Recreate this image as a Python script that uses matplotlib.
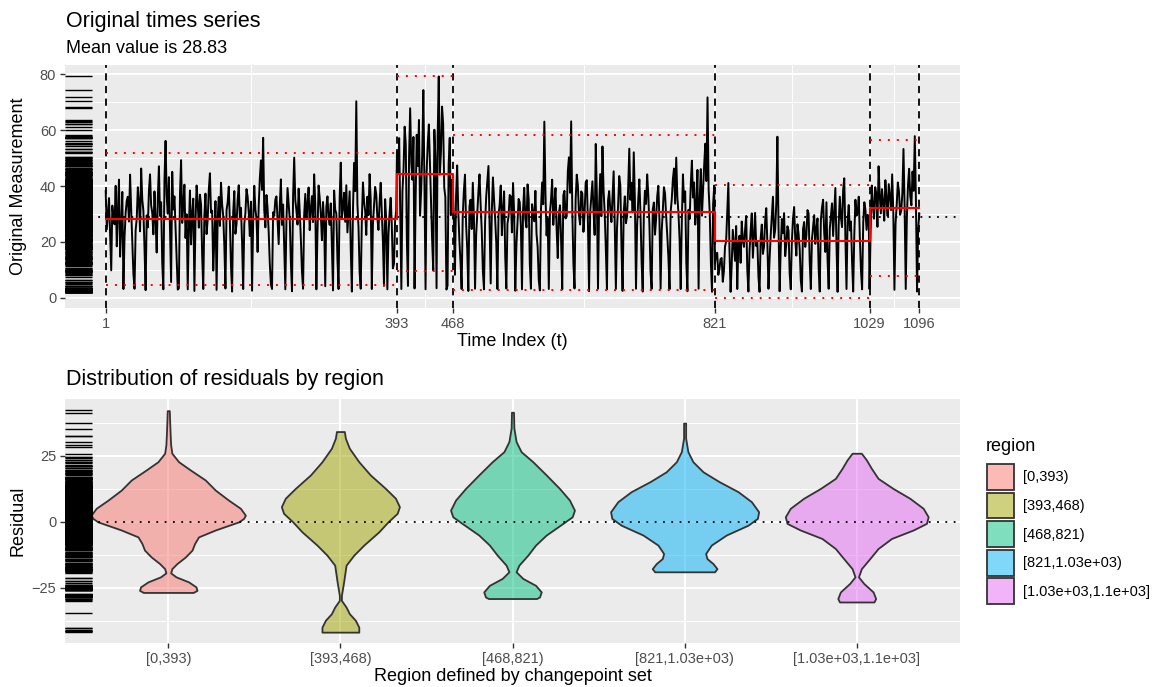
import matplotlib.pyplot as plt
import numpy as np
from matplotlib.patches import Patch
from matplotlib.colors import to_rgba

plt.rcParams['font.family'] = ['Liberation Sans', 'DejaVu Sans']

# changepoints and per-region summaries
breaks = [1, 393, 468, 821, 1029, 1096]
overall_mean = 28.83
seg_means = [28.1, 44.4, 30.7, 20.2, 32.3]
seg_upper = [51.7, 79.5, 58.4, 40.4, 56.5]
seg_lower = [4.4, 9.7, 2.8, 0.0, 7.8]

# time series, read roughly every 1.5 time steps, one list per region
seg1_values = [
    38.2, 24.5, 30.1, 35.7, 22.4, 9.8, 33.0, 28.6, 26.3, 40.1, 18.4, 31.2, 42.3, 14.7, 25.5, 37.9, 3.1, 21.6, 30.4, 34.8,
    36.2, 27.3, 44.1, 31.5, 20.3, 8.6, 3.2, 24.1, 28.4, 39.6, 34.0, 23.8, 46.3, 35.2, 31.1, 17.9, 2.7, 29.5, 25.2, 38.3,
    44.2, 33.1, 30.4, 22.7, 38.1, 27.9, 16.2, 35.4, 47.1, 29.3, 34.2, 12.5, 3.0, 41.8, 56.2, 36.4, 30.1, 43.2, 24.3, 5.6,
    45.1, 31.6, 36.3, 25.4, 14.1, 2.9, 3.4, 37.2, 49.3, 26.8, 33.2, 40.5, 21.4, 29.9, 3.0, 24.7, 38.4, 19.1, 30.2, 35.5,
    2.4, 27.6, 40.2, 33.8, 25.1, 36.9, 33.4, 15.2, 3.1, 29.4, 37.3, 22.8, 28.1, 38.7, 44.6, 30.5, 31.2, 9.7, 21.3, 34.6,
    2.8, 28.3, 36.1, 25.7, 41.2, 33.5, 29.3, 18.6, 3.3, 31.4, 34.2, 39.8, 27.1, 11.4, 2.2, 30.6, 38.2, 22.9, 26.4, 35.1,
    40.3, 28.7, 32.2, 19.8, 3.1, 26.5, 30.3, 38.9, 36.2, 30.7, 22.1, 34.4, 2.5, 27.3, 40.1, 31.6, 28.3, 16.4, 33.1, 42.7,
    49.2, 38.6, 57.3, 31.4, 25.2, 36.8, 32.1, 23.5, 12.2, 4.8, 3.1, 30.6, 29.4, 35.2, 36.3, 27.8, 19.2, 32.9, 42.4, 26.1,
    33.4, 18.2, 3.0, 27.5, 39.3, 33.7, 28.1, 12.6, 2.3, 36.4, 50.2, 34.9, 31.3, 26.2, 39.1, 30.8, 21.2, 9.3, 3.2, 29.7,
    37.2, 28.3, 33.1, 39.5, 24.2, 31.8, 36.4, 27.1, 44.2, 33.6, 3.0, 23.4, 40.2, 35.7, 30.1, 20.6, 34.3, 26.9, 4.1, 32.5,
    36.3, 29.2, 26.1, 33.8, 18.3, 2.6, 38.4, 31.5, 30.2, 13.7, 3.1, 35.9, 48.4, 28.8, 32.3, 37.6, 27.2, 40.3, 23.4, 30.9,
    38.1, 17.4, 2.2, 31.3, 48.3, 38.2, 70.4, 33.6, 25.2, 9.1, 3.2, 27.9, 41.3, 34.4, 31.1, 22.5, 36.2, 29.6, 44.3, 35.0,
    3.1, 26.4, 33.2, 39.7, 37.1, 28.5, 24.3, 33.9, 41.2, 30.6, 20.1, 4.2, 35.3, 27.7, 3.0, 22.4, 30.2, 35.8, 26.3, 10.5,
    12.2, 27.4, 31.3]
seg2_values = [
    52.3, 44.6, 57.2, 30.5, 3.1, 38.2, 46.4, 61.3, 55.1, 20.7, 4.2, 50.3, 67.9, 48.5, 42.3, 57.6, 3.3,
    36.1, 58.4, 47.2, 63.7, 29.4, 38.2, 51.8, 74.4, 40.6, 3.0, 45.2, 55.3, 62.1, 48.4, 35.6, 20.3, 9.8,
    60.2, 49.7, 3.4, 57.7, 79.3, 44.1, 52.2, 68.5, 62.4, 39.5, 36.1, 2.9, 4.3, 47.8, 57.3, 29.6, 42.1]
seg3_values = [
    42.3, 27.6, 8.2, 36.1, 47.4, 31.2, 20.3, 12.8, 3.1, 29.4, 38.2, 44.1, 26.3, 17.5, 2.4, 32.7, 35.1, 24.6, 41.2, 28.9,
    3.2, 22.5, 30.3, 37.8, 44.2, 33.4, 24.1, 9.5, 3.0, 27.2, 36.3, 41.8, 47.2, 25.6, 5.1, 30.9, 43.1, 35.2, 28.2, 19.4,
    3.1, 29.8, 33.3, 40.2, 22.4, 31.6, 38.1, 14.7, 3.3, 26.5, 29.2, 36.8, 36.3, 23.4, 41.1, 30.2, 2.5, 18.6, 27.3, 35.4,
    34.2, 25.7, 3.0, 31.9, 39.4, 28.3, 25.2, 40.6, 35.3, 12.1, 3.2, 33.5, 30.1, 27.4, 38.3, 22.9, 18.2, 6.3, 2.6, 31.8,
    41.3, 33.5, 63.1, 37.2, 22.3, 28.4, 3.1, 30.6, 35.2, 42.3, 26.1, 33.8, 39.3, 24.5, 14.2, 30.1, 33.1, 20.4, 3.0, 36.7,
    38.3, 28.4, 29.1, 45.2, 50.3, 37.6, 63.2, 31.5, 12.4, 3.3, 35.2, 44.1, 40.3, 29.7, 26.2, 38.1, 37.3, 23.6, 30.2, 41.4,
    42.1, 26.8, 2.3, 30.4, 36.2, 41.7, 31.3, 22.5, 55.1, 36.4, 3.2, 33.1, 44.3, 29.2, 54.2, 38.5, 30.3, 17.6, 3.0, 34.9,
    38.2, 31.5, 27.1, 35.9, 45.3, 26.2, 3.1, 24.8, 33.2, 43.6, 40.2, 18.3, 2.4, 30.5, 36.3, 26.7, 29.2, 39.4, 53.4, 35.1,
    41.2, 30.6, 52.1, 35.3, 3.2, 25.8, 35.1, 42.4, 30.2, 12.9, 2.2, 29.3, 38.3, 33.6, 44.2, 36.8, 26.1, 9.4, 3.1, 31.7,
    34.1, 22.6, 28.3, 36.4, 40.1, 27.5, 3.2, 23.9, 31.2, 39.6, 37.3, 29.1, 22.2, 14.3, 3.0, 30.8, 35.2, 42.5, 46.3, 33.7,
    50.2, 36.1, 30.3, 20.8, 3.1, 27.7, 44.2, 34.3, 38.1, 12.6, 2.3, 31.5, 28.2, 40.4, 49.1, 35.9, 41.3, 26.2, 33.1, 45.8,
    3.2, 35.6, 46.1, 29.4, 38.3, 47.5, 55.2, 41.8, 71.8, 38.6, 30.2, 12.3, 2.1, 33.5, 40.2]
seg4_values = [
    12.3, 15.6, 16.1, 8.2, 10.3, 13.9, 14.2, 5.7, 9.4, 18.3, 20.2, 30.6, 41.1, 17.2, 2.1, 11.6, 24.3, 18.8, 13.2, 25.7,
    3.1, 19.4, 22.2, 12.5, 27.3, 20.6, 18.2, 24.4, 29.3, 9.8, 2.2, 16.9, 24.1, 30.2, 14.3, 22.7, 30.4, 18.5, 20.2, 7.4,
    2.1, 21.3, 26.2, 15.7, 18.3, 27.4, 32.1, 19.6, 3.2, 13.8, 22.4, 29.1, 36.2, 21.5, 24.3, 33.7, 57.7, 25.4, 2.3, 17.8,
    28.2, 23.1, 30.3, 14.9, 19.2, 25.6, 24.1, 8.7, 3.0, 20.4, 28.3, 32.5, 21.2, 15.1, 26.3, 22.9, 17.4, 6.2, 2.2, 24.6,
    27.1, 18.2, 22.3, 31.4, 30.2, 12.7, 3.1, 20.9, 25.2, 29.6, 19.3, 24.8, 28.4, 10.5, 2.2, 27.8, 32.3, 35.1, 23.2, 16.4,
    34.2, 13.6, 3.2, 24.7, 29.3, 33.8, 22.1, 30.5, 39.3, 19.4, 2.1, 26.3, 36.2, 28.7, 25.3, 38.6, 42.8, 21.7, 3.1, 27.5,
    33.2, 24.1, 27.3, 12.8, 2.2, 22.6, 35.1, 29.4, 30.3, 36.2, 21.1, 9.6, 3.0, 26.8, 34.2, 31.5, 24.3, 29.7, 28.2]
seg5_values = [
    3.1, 24.5, 40.2, 33.1, 28.3, 39.6, 37.2, 25.4, 47.1, 36.8, 30.2, 38.9, 34.3, 27.6, 42.1,
    35.2, 29.3, 40.7, 36.1, 31.4, 44.2, 30.8, 2.8, 26.5, 33.2, 41.3, 38.1, 29.7, 31.2, 37.4,
    53.3, 32.6, 3.1, 28.9, 40.3, 46.2, 36.4, 33.1, 45.2, 38.3, 57.9, 34.6, 2.2, 24.8, 30.1]

region_labels = ['[0,393)', '[393,468)', '[468,821)',
                 '[821,1.03e+03)', '[1.03e+03,1.1e+03]']
region_colors = ['#F8766D', '#A3A500', '#00BF7D', '#00B0F6', '#E76BF3']

# violin outlines: residual level, half width (category units)
violin_levels = [
    [42.0, 38, 33, 29, 25.9, 22.7, 19.6, 15.8, 12.0, 8.2, 5.1, 2.5, 1.3, 0,
     -3.1, -5.7, -8.2, -10.7, -13.3, -15.8, -17.7, -19.3, -20.8, -22.7,
     -24.6, -25.9, -26.7],
    [34.1, 31.6, 27.8, 22.7, 17.7, 12.6, 8.9, 5.7, 3.2, 0, -3.8, -8.8,
     -12.6, -16.4, -22.7, -27.8, -29.7, -32.2, -34.7, -37.2, -39.8, -41.7],
    [41.4, 35.4, 30.3, 26.5, 22.7, 17.7, 12.6, 8.2, 4.4, 1.9, -0.6, -5.0,
     -8.8, -12.6, -16.4, -18.9, -21.4, -24.0, -26.5, -28.4, -29.0],
    [37.3, 31.6, 26.5, 22.7, 18.9, 15.2, 11.4, 7.6, 3.8, 1.3, -1.3, -5.0,
     -8.8, -12.0, -13.9, -15.8, -17.7, -18.9],
    [25.9, 23.4, 20.2, 16.4, 12.6, 8.9, 5.1, 1.9, -0.6, -3.1, -6.3, -10.1,
     -13.9, -17.7, -20.8, -23.3, -26.5, -29.0, -30.3],
]
violin_halfwidths = [
    [0.006, 0.008, 0.011, 0.014, 0.021, 0.06, 0.128, 0.215, 0.273, 0.35,
     0.419, 0.448, 0.438, 0.41, 0.273, 0.176, 0.153, 0.138, 0.099, 0.05,
     0.021, 0.014, 0.045, 0.118, 0.161, 0.167, 0.145],
    [0.023, 0.029, 0.052, 0.107, 0.174, 0.262, 0.32, 0.343, 0.33, 0.277,
     0.223, 0.136, 0.078, 0.033, 0.019, 0.006, 0.006, 0.033, 0.052, 0.087,
     0.107, 0.107],
    [0.006, 0.008, 0.021, 0.05, 0.118, 0.196, 0.273, 0.331, 0.36, 0.347,
     0.293, 0.196, 0.134, 0.089, 0.037, 0.021, 0.06, 0.134, 0.167, 0.157,
     0.14],
    [0.006, 0.006, 0.019, 0.048, 0.107, 0.2, 0.31, 0.388, 0.43, 0.423,
     0.368, 0.242, 0.155, 0.122, 0.13, 0.165, 0.188, 0.174],
    [0.027, 0.056, 0.085, 0.124, 0.211, 0.308, 0.386, 0.415, 0.405, 0.328,
     0.202, 0.124, 0.076, 0.027, 0.01, 0.041, 0.095, 0.11, 0.1],
]

segments = [seg1_values, seg2_values, seg3_values, seg4_values, seg5_values]
t_parts, v_parts, r_parts = [], [], []
for i, vals in enumerate(segments):
    end = breaks[i + 1] - 1 if i < len(segments) - 1 else breaks[-1]
    t_parts.append(np.linspace(breaks[i], end, len(vals)))
    v_parts.append(np.array(vals, dtype=float))
    r_parts.append(np.array(vals, dtype=float) - seg_means[i])
t = np.concatenate(t_parts)
values = np.concatenate(v_parts)
residuals = np.concatenate(r_parts)

grey_bg = '#EBEBEB'
tick_col = '#4D4D4D'
dotted = (0, (1, 3.6))


def style_axes(ax):
    ax.set_facecolor(grey_bg)
    for s in ax.spines.values():
        s.set_visible(False)
    ax.set_axisbelow(True)
    ax.grid(which='major', color='white', linewidth=1.4)
    ax.grid(which='minor', color='white', linewidth=0.7)
    ax.tick_params(which='major', length=3.8, width=1.0, color='#333333',
                   labelcolor=tick_col, labelsize=10.5, pad=2.5)
    ax.tick_params(which='minor', length=0)


fig = plt.figure(figsize=(11.58, 6.87), dpi=100)
W, H = 1158, 687

# top panel: original series
ax1 = fig.add_axes([65 / W, 1 - 308 / H, 895 / W, 243 / H])
style_axes(ax1)
ax1.set_xlim(-53.75, 1150.75)
ax1.set_ylim(-3.7, 83.4)
ax1.set_xticks(breaks)
ax1.set_xticks([(a + b) / 2 for a, b in zip(breaks[:-1], breaks[1:])], minor=True)
ax1.set_yticks([0, 20, 40, 60, 80])
ax1.set_yticks([10, 30, 50, 70], minor=True)

ax1.axhline(overall_mean, color='black', linestyle=dotted, linewidth=1.3, zorder=1.5)
ax1.plot(t, values, color='black', linewidth=1.4, zorder=2)
for b in breaks:
    ax1.axvline(b, color='black', linestyle=(0, (4, 3)), linewidth=1.3, zorder=3)
ax1.step(breaks, seg_means + [seg_means[-1]], where='post', color='red', linewidth=1.5, zorder=4)
ax1.hlines(seg_upper, breaks[:-1], breaks[1:], colors='red', linestyles=dotted, linewidth=1.4, zorder=4)
ax1.hlines(seg_lower, breaks[:-1], breaks[1:], colors='red', linestyles=dotted, linewidth=1.4, zorder=4)
ax1.hlines(values, 0, 0.03, transform=ax1.get_yaxis_transform(), colors='black', linewidth=1.0, zorder=5)

ax1.set_xlabel('Time Index (t)', fontsize=13, va='center')
ax1.xaxis.set_label_coords(0.5, -0.138)
ax1.set_ylabel('Original Measurement', fontsize=13, va='center')
ax1.yaxis.set_label_coords(-0.0525, 0.5)

fig.text(66 / W, 1 - 26.7 / H, 'Original times series', fontsize=15.5, va='baseline')
fig.text(66 / W, 1 - 53.3 / H, 'Mean value is 28.83', fontsize=13, va='baseline')

# bottom panel: residual violins
ax2 = fig.add_axes([65 / W, 1 - 643 / H, 895 / W, 244 / H])
style_axes(ax2)
ax2.set_xlim(0.4, 5.6)
ax2.set_ylim(-45.8, 46.4)
ax2.set_xticks(range(1, 6))
ax2.set_xticklabels(region_labels)
ax2.set_yticks([-25, 0, 25])
ax2.set_yticks([-37.5, -12.5, 12.5, 37.5], minor=True)
ax2.grid(axis='x', which='minor', visible=False)

for i, (lev, hw) in enumerate(zip(violin_levels, violin_halfwidths)):
    lev = np.array(lev)
    hw = np.array(hw)
    ax2.fill_betweenx(lev, i + 1 - hw, i + 1 + hw,
                      facecolor=to_rgba(region_colors[i], 0.5),
                      edgecolor='#333333', linewidth=1.3, zorder=2)
ax2.axhline(0, color='black', linestyle=dotted, linewidth=1.3, zorder=3)
ax2.hlines(residuals, 0, 0.03, transform=ax2.get_yaxis_transform(), colors='black', linewidth=1.0, zorder=5)

ax2.set_xlabel('Region defined by changepoint set', fontsize=13, va='center')
ax2.xaxis.set_label_coords(0.5, -0.139)
ax2.set_ylabel('Residual', fontsize=13, va='center')
ax2.yaxis.set_label_coords(-0.0525, 0.5)

fig.text(66 / W, 1 - 385 / H, 'Distribution of residuals by region', fontsize=15.5, va='baseline')

# legend: title placed as text, keys below it
fig.text(986 / W, 1 - 451 / H, 'region', fontsize=13, va='baseline')
handles = [Patch(facecolor=to_rgba(c, 0.5), edgecolor='#333333', linewidth=1.3) for c in region_colors]
fig.legend(handles, region_labels, loc='upper left',
           bbox_to_anchor=(987 / W, 1 - 464 / H), frameon=False,
           fontsize=10.5, handlelength=1.82, handleheight=2.35,
           labelspacing=0.19, handletextpad=0.67, borderpad=0, borderaxespad=0)

fig.savefig('out.png', dpi=100)
